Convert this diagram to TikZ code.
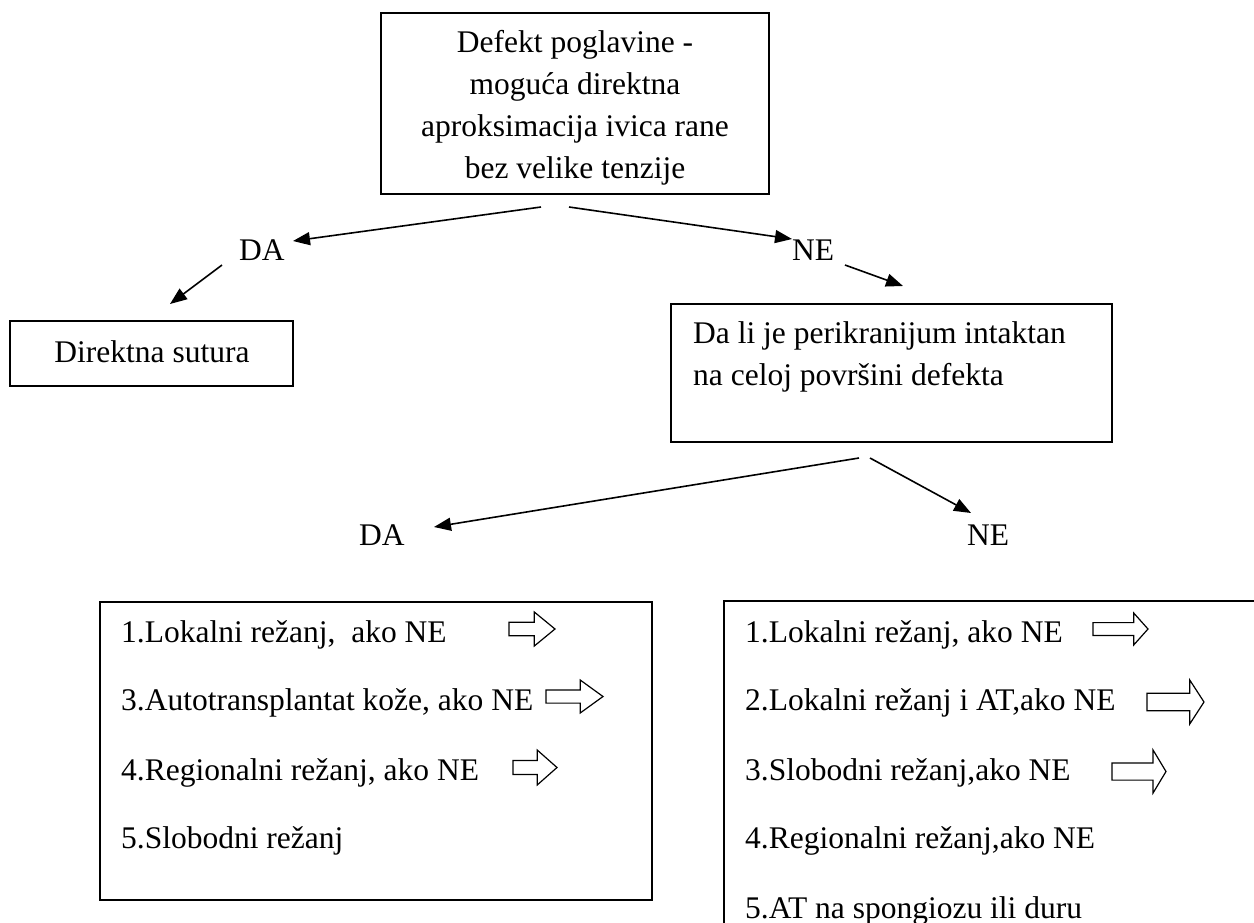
\documentclass[tikz,border=0pt]{standalone}
\usepackage{fontspec}
\setmainfont{Liberation Serif}
\usetikzlibrary{arrows.meta}

% outlined block arrow: left x, top y, width, height, head fraction
\newcommand\hollowarr[5]{%
  \draw[hollow, shift={(#1,#2)}, xscale=#3, yscale=#4]
    (0,0.3) -- ({1-#5},0.3) -- ({1-#5},0) -- (1,0.5) -- ({1-#5},1)
    -- ({1-#5},0.7) -- (0,0.7) -- cycle;}

\begin{document}
\begin{tikzpicture}[x=1pt,y=-1pt,
  every node/.style={font=\fontsize{31.5}{42}\selectfont, inner sep=0pt},
  box/.style={draw, line width=1.5pt},
  link/.style={line width=1.6pt, -{Triangle[length=17pt,width=13pt]}},
  hollow/.style={draw, line width=1.2pt, line join=miter}]

\path[use as bounding box] (0,0) rectangle (1254,922);
\begin{scope}
\clip (0,0) rectangle (1254,922);

% question boxes
\node[box, minimum width=388pt, minimum height=181pt] (root) at (575,103.5) {};
\node[align=center, anchor=north] (roottxt) at (575,30.5)
  {Defekt poglavine -\\moguća direktna\\aproksimacija ivica rane\\bez velike tenzije};

\node[box, minimum width=283pt, minimum height=65pt] (suture) at (151.5,353.5) {};
\node[anchor=base] (suturetxt) at (152,362) {Direktna sutura};

\node[box, minimum width=441pt, minimum height=138pt] (peri) at (891.5,373) {};
\node[align=left, anchor=north west] (peritxt) at (693,321.5)
  {Da li je perikranijum intaktan\\na celoj površini defekta};

% answer labels
\node[anchor=base west] (da1) at (239,260) {DA};
\node[anchor=base west] (ne1) at (792,260) {NE};
\node[anchor=base west] (da2) at (359,545) {DA};
\node[anchor=base west] (ne2) at (967,545) {NE};

% connector ends
\coordinate (r1) at (541,207);
\coordinate (r2) at (569,207);
\coordinate (d1) at (222,265);
\coordinate (n1) at (845,265);
\coordinate (p1) at (859,458);
\coordinate (p2) at (870,458);
\coordinate (da1tip) at (293,241);
\coordinate (ne1tip) at (792,239);
\coordinate (suttip) at (170,304);
\coordinate (peritip) at (903,286);
\coordinate (da2tip) at (434,527);
\coordinate (ne2tip) at (971,513);

\draw[link] (r1) -- (da1tip);
\draw[link] (r2) -- (ne1tip);
\draw[link] (d1) -- (suttip);
\draw[link] (n1) -- (peritip);
\draw[link] (p1) -- (da2tip);
\draw[link] (p2) -- (ne2tip);

% option lists
\draw[box] (100,602) rectangle (652,900);
\node[anchor=base west] (l1) at (121,642) {1.Lokalni režanj,\ \ ako NE};
\node[anchor=base west] (l2) at (121,710) {3.Autotransplantat kože, ako NE};
\node[anchor=base west] (l3) at (121,780) {4.Regionalni režanj, ako NE};
\node[anchor=base west] (l4) at (121,848) {5.Slobodni režanj};
\hollowarr{509}{612}{46}{34}{0.45}
\hollowarr{546}{680}{57}{33}{0.4}
\hollowarr{513}{750}{44}{35}{0.45}

\draw[box] (724,601) rectangle (1270,940);
\node[anchor=base west] (r1t) at (745,642) {1.Lokalni režanj, ako NE};
\node[anchor=base west] (r2t) at (745,710) {2.Lokalni režanj i AT,ako NE};
\node[anchor=base west] (r3t) at (745,780) {3.Slobodni režanj,ako NE};
\node[anchor=base west] (r4t) at (745,848) {4.Regionalni režanj,ako NE};
\node[anchor=base west] (r5t) at (745,918) {5.AT na spongiozu ili duru};
\hollowarr{1093}{613}{55}{32}{0.26}
\hollowarr{1147}{680}{57}{44}{0.25}
\hollowarr{1112}{750}{54}{43}{0.24}
\end{scope}
\end{tikzpicture}
\end{document}
